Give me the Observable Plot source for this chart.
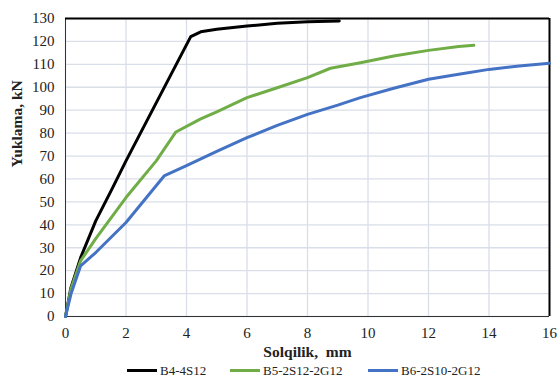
<!DOCTYPE html>
<html>
<head>
<meta charset="utf-8">
<script src="https://cdn.jsdelivr.net/npm/d3@7"></script>
<script src="https://cdn.jsdelivr.net/npm/@observablehq/plot@0.6"></script>
<style>
  html, body { margin: 0; padding: 0; background: #fff; }
  #wrap { position: relative; width: 558px; height: 379px; font-family: "Liberation Serif", "DejaVu Serif", serif; }
  #legend { position: absolute; left: 0; top: 362px; width: 558px; height: 17px; font-size: 13px; color: #222; }
  .item { position: absolute; top: 0; display: flex; align-items: center; height: 17px; }
  .sw { width: 30px; height: 3px; margin-right: 3px; }
</style>
</head>
<body>
<div id="wrap"><div id="chart"></div><div id="legend"></div></div>
<script>
const seriesNames = ["B4-4S12", "B5-2S12-2G12", "B6-2S10-2G12"];
const seriesColors = ["#000000", "#70ad47", "#4472c4"];

const b4X = [0, 0.18, 0.5, 1.0, 1.56, 2.0, 4.14, 4.47, 5.0, 6.0, 7.0, 8.0, 9.05];
const b4Y = [0, 12.6, 25.7, 41.7, 56.2, 67.9, 122.1, 124.2, 125.3, 126.7, 127.9, 128.6, 128.9];

const b5X = [0, 0.18, 0.5, 1.0, 2.0, 3.0, 3.65, 4.47, 5.0, 6.0, 7.0, 8.0, 8.76, 9.75, 10.85, 12.0, 13.0, 13.5];
const b5Y = [0, 12, 24.3, 34, 51.9, 67.9, 80.5, 86.2, 89.3, 95.5, 99.8, 104.2, 108.3, 110.7, 113.6, 116.1, 117.8, 118.3];

const b6X = [0, 0.18, 0.5, 1.0, 2.0, 3.26, 4.0, 5.0, 6.0, 7.0, 8.0, 9.0, 9.75, 10.85, 12.0, 13.0, 14.0, 15.0, 16.0];
const b6Y = [0, 9.8, 22.1, 27.9, 41.0, 61.3, 65.8, 72.0, 78.0, 83.4, 88.2, 92.2, 95.5, 99.6, 103.5, 105.7, 107.8, 109.3, 110.5];

const xTicks = [0, 2, 4, 6, 8, 10, 12, 14, 16];
const yTicks = [0, 10, 20, 30, 40, 50, 60, 70, 80, 90, 100, 110, 120, 130];

const allX = [b4X, b5X, b6X];
const allY = [b4Y, b5Y, b6Y];
const data = [];
seriesNames.forEach((s, i) => allX[i].forEach((x, j) => data.push({series: s, x, y: allY[i][j]})));

const chart = Plot.plot({
  width: 558,
  height: 362,
  marginLeft: 65,
  marginRight: 9,
  marginTop: 18,
  marginBottom: 46,
  style: {fontFamily: "Liberation Serif, serif", fontSize: "15px", color: "#222", background: "#fff"},
  x: {domain: [0, 16], axis: null},
  y: {domain: [0, 130], axis: null},
  color: {domain: seriesNames, range: seriesColors},
  marks: [
    Plot.gridX(xTicks, {stroke: "#d9dee8", strokeOpacity: 1, strokeWidth: 1.3}),
    Plot.gridY(yTicks, {stroke: "#d9dee8", strokeOpacity: 1, strokeWidth: 1.3}),
    Plot.ruleX([0], {stroke: "#333", strokeWidth: 1}),
    Plot.ruleY([0], {stroke: "#333", strokeWidth: 1}),
    Plot.ruleY([130], {stroke: "#000", strokeWidth: 2}),
    Plot.ruleX([16], {stroke: "#000", strokeWidth: 2}),
    Plot.line(data, {x: "x", y: "y", z: "series", stroke: "series", strokeWidth: 3, strokeLinejoin: "round", curve: "linear"}),
    Plot.text(xTicks, {x: d => d, frameAnchor: "bottom", lineAnchor: "top", dy: 11, fontSize: 15, fill: "#222"}),
    Plot.text(yTicks, {y: d => d, frameAnchor: "left", textAnchor: "end", dx: -11, fontSize: 15, fill: "#222"}),
    Plot.text(["Solqilik,\u00a0\u00a0mm"], {frameAnchor: "bottom", dy: 40, fontWeight: "bold", fontSize: 15.5}),
    Plot.text(["Yuklama, kN"], {frameAnchor: "left", dx: -48, rotate: -90, fontWeight: "bold", fontSize: 15.5})
  ]
});
document.getElementById("chart").appendChild(chart);

const legendLeft = [127, 230, 368];
const legend = document.getElementById("legend");
seriesNames.forEach((s, i) => {
  const it = document.createElement("div");
  it.className = "item";
  it.style.left = legendLeft[i] + "px";
  const sw = document.createElement("span");
  sw.className = "sw";
  sw.style.background = seriesColors[i];
  const t = document.createElement("span");
  t.textContent = s;
  it.appendChild(sw); it.appendChild(t);
  legend.appendChild(it);
});
</script>
</body>
</html>
